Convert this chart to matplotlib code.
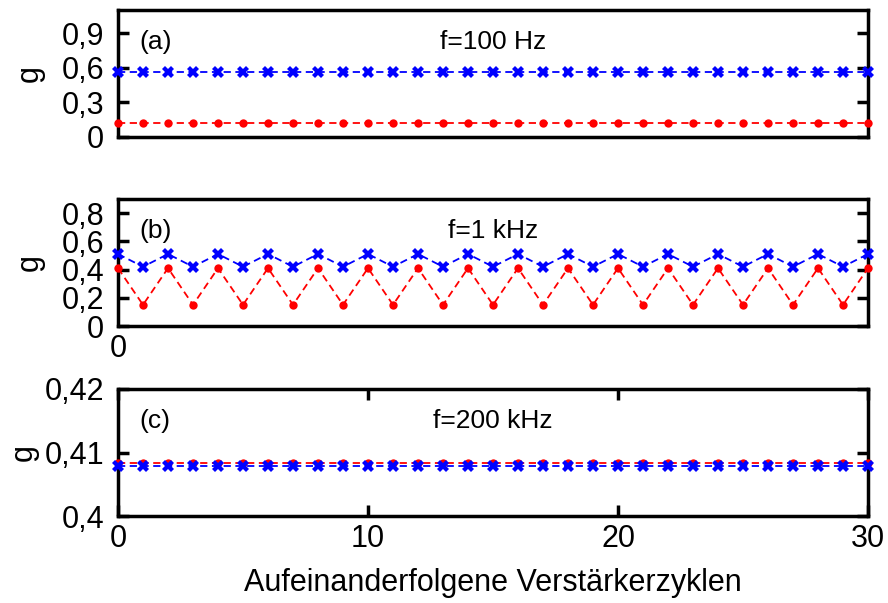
import matplotlib
matplotlib.use("Agg")
import matplotlib.pyplot as plt
from matplotlib.ticker import FuncFormatter

plt.rcParams["font.family"] = ["Liberation Sans", "DejaVu Sans"]

cycles = list(range(31))

# (a) f = 100 Hz
a_red = [0.12] * 31
a_blue = [0.56] * 31

# (b) f = 1 kHz, alternating between two levels
b_red = [0.41 if i % 2 == 0 else 0.15 for i in cycles]
b_blue = [0.51 if i % 2 == 0 else 0.42 for i in cycles]

# (c) f = 200 kHz
c_red = [0.4084] * 31
c_blue = [0.4078] * 31

panel_labels = ["(a)", "(b)", "(c)"]
freq_labels = ["f=100 Hz", "f=1 kHz", "f=200 kHz"]
yticks = [[0, 0.3, 0.6, 0.9], [0, 0.2, 0.4, 0.6, 0.8], [0.4, 0.41, 0.42]]
ylims = [(0, 1.1), (0, 0.9), (0.4, 0.42)]
ylabel_pads = [12, 12, 4]


def comma(v, pos):
    s = f"{v:.2f}".rstrip("0").rstrip(".")
    return s.replace(".", ",")


fig = plt.figure(figsize=(8.88, 6.03), dpi=100)
left, width = 118 / 888, 750 / 888
tops = [10, 199, 389]
height = 127 / 603

series = [(a_red, a_blue), (b_red, b_blue), (c_red, c_blue)]
for k, (red, blue) in enumerate(series):
    ax = fig.add_axes([left, 1 - (tops[k] + 127) / 603, width, height])
    ax.plot(cycles, red, color="#ff0000", linestyle=(0, (4, 2.5)), linewidth=1.3,
            marker="o", markersize=6, markeredgewidth=0, clip_on=False, zorder=3)
    ax.plot(cycles, blue, color="#0000ff", linestyle=(0, (4, 2.5)), linewidth=1.3,
            marker="X", markersize=8.5, markeredgewidth=0, clip_on=False, zorder=3)
    ax.set_xlim(0, 30)
    ax.set_ylim(*ylims[k])
    ax.set_yticks(yticks[k])
    ax.yaxis.set_major_formatter(FuncFormatter(comma))
    ax.tick_params(direction="in", length=8, width=2.5, labelsize=22,
                   right=True, top=True, pad=10)
    for s in ax.spines.values():
        s.set_linewidth(2.5)
    if k == 0:
        ax.set_xticks([])
    elif k == 1:
        ax.set_xticks([0])
        ax.tick_params(axis="x", length=0, pad=6)
    else:
        ax.set_xticks([0, 10, 20, 30])
        ax.tick_params(axis="x", pad=6)
        ax.set_xlabel("Aufeinanderfolgene Verstärkerzyklen", fontsize=22, labelpad=10)
    ax.set_ylabel("g", fontsize=22, labelpad=ylabel_pads[k])
    ax.text(0.028, 0.75, panel_labels[k], transform=ax.transAxes, fontsize=19,
            va="center", ha="left")
    ax.text(0.5, 0.75, freq_labels[k], transform=ax.transAxes, fontsize=19,
            va="center", ha="center")

fig.savefig("out.png", dpi=100)
